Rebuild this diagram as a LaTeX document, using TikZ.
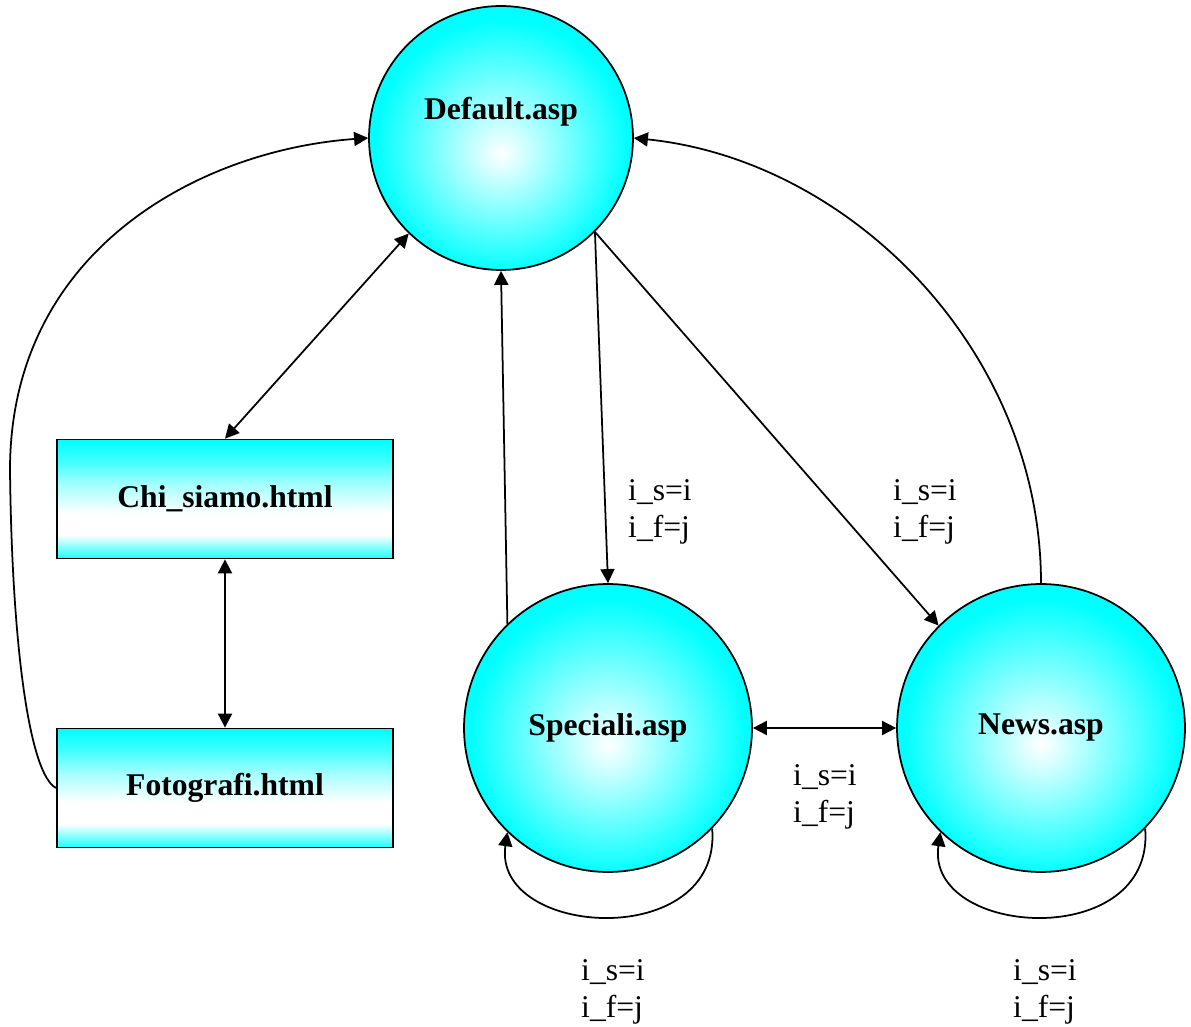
\documentclass[tikz,border=0pt]{standalone}
\usepackage{fontspec}
\setmainfont{Liberation Serif}
\usepackage{tikz}
\usetikzlibrary{arrows.meta, positioning, calc}
\usepackage{xcolor}

\pgfdeclareradialshading{ballglow}{\pgfpoint{0bp}{-3bp}}{%
  color(0bp)=(white); color(24bp)=(cyan); color(50bp)=(cyan)}
\pgfdeclareverticalshading{barglow}{100bp}{%
  color(0bp)=(cyan); color(25bp)=(cyan!90); color(35bp)=(white);
  color(44bp)=(white); color(56bp)=(cyan!35); color(66bp)=(cyan!75);
  color(75bp)=(cyan); color(100bp)=(cyan)}

\tikzset{
  page/.style={shading=ballglow, draw, line width=1pt, circle, inner sep=0pt},
  html/.style={draw, line width=1pt, rectangle, minimum width=6.72cm,
    minimum height=2.38cm, shading=barglow,
    font=\fontsize{18}{21}\selectfont\bfseries},
  pagetitle/.style={font=\fontsize{18}{21}\selectfont\bfseries},
  param/.style={align=left, inner sep=0pt, font=\fontsize{18}{21}\selectfont},
  link/.style={line width=1pt, -{Triangle[length=8pt,width=8pt]}},
  both/.style={line width=1pt, {Triangle[length=8pt,width=8pt]}-{Triangle[length=8pt,width=8pt]}}
}

\begin{document}
\begin{tikzpicture}[x=0.02cm, y=-0.02cm]
\useasboundingbox (0,0) rectangle (1191,1027);

% pages
\node (def) [page, minimum size=5.28cm] at (501,138) {};
\node (deftxt) [pagetitle] at ([yshift=0.52cm]def.center) {Default.asp};
\node (spec) [page, minimum size=5.76cm, pagetitle] at (608,728) {Speciali.asp};
\node (news) [page, minimum size=5.76cm, pagetitle] at (1041,728) {News.asp};
\node (chi) [html] at (225,499) {Chi\_siamo.html};
\node (foto) [html] at (225,788) {Fotografi.html};

% links
\draw[both] (def.-134) -- (chi.north);
\draw[both] (chi.south) -- (foto.north);
\draw[link] (foto.west) .. controls (30,775) and (12,650) .. (10,470)
  .. controls (10,250) and (200,150) .. (def.west);
\draw[link] (spec.134) -- (def.south);
\draw[link] (def.-45) -- (spec.north);
\draw[link] (def.-45) -- (news.135);
\draw[link] (news.north) .. controls (1041,350) and (850,160) .. (def.east);
\draw[both] (spec.east) -- (news.west);
\draw[link] (spec.-44) .. controls (722,952) and (492,938) .. (spec.-134);
\draw[link] (news.-44) .. controls (1155,952) and (925,938) .. (news.-134);

% parameters
\node (p1) [param] at (660,512) {i\_s=i\\i\_f=j};
\node (p2) [param] at (925,512) {i\_s=i\\i\_f=j};
\node (p3) [param] at (825,797) {i\_s=i\\i\_f=j};
\node (p4) [param] at (613,992) {i\_s=i\\i\_f=j};
\node (p5) [param] at (1045,992) {i\_s=i\\i\_f=j};
\end{tikzpicture}
\end{document}
